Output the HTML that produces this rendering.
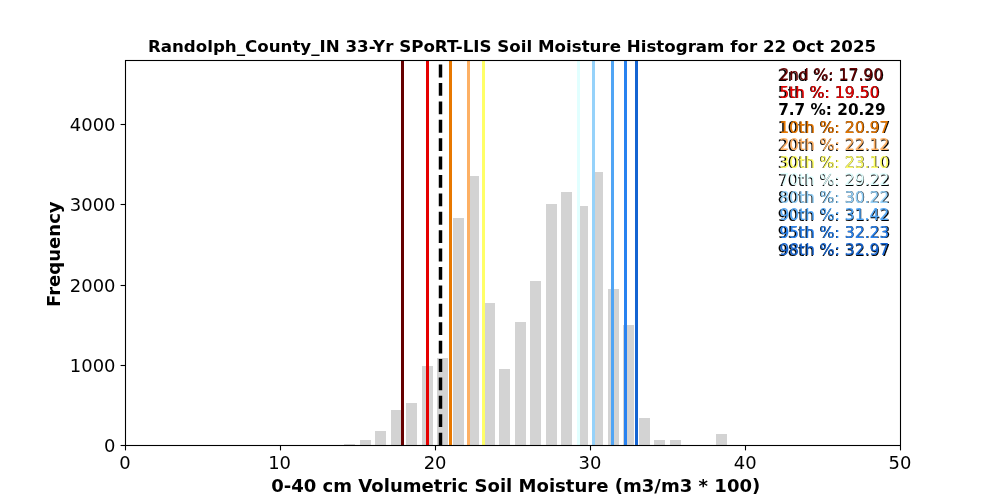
<!DOCTYPE html>
<html lang="en">
<head>
<meta charset="utf-8">
<title>Randolph_County_IN Soil Moisture Histogram</title>
<style>
html,body{margin:0;padding:0;background:#fff;}
body{width:1000px;height:500px;overflow:hidden;}
svg{display:block;will-change:transform;transform:translateZ(0);}
text{font-family:"DejaVu Sans", "Liberation Sans", sans-serif;fill:#000;}
.b{font-weight:bold;}
</style>
</head>
<body>
<svg width="1000" height="500" viewBox="0 0 1000 500">
<rect x="0" y="0" width="1000" height="500" fill="#ffffff"/>
<g fill="#d3d3d3" shape-rendering="crispEdges">
<rect x="344" y="444" width="11" height="1"/>
<rect x="360" y="440" width="11" height="5"/>
<rect x="375" y="431" width="11" height="14"/>
<rect x="391" y="410" width="11" height="35"/>
<rect x="406" y="403" width="11" height="42"/>
<rect x="422" y="366" width="11" height="79"/>
<rect x="437" y="358" width="11" height="87"/>
<rect x="453" y="218" width="11" height="227"/>
<rect x="468" y="176" width="11" height="269"/>
<rect x="484" y="303" width="11" height="142"/>
<rect x="499" y="369" width="11" height="76"/>
<rect x="515" y="322" width="11" height="123"/>
<rect x="530" y="281" width="11" height="164"/>
<rect x="546" y="204" width="11" height="241"/>
<rect x="561" y="192" width="11" height="253"/>
<rect x="577" y="206" width="11" height="239"/>
<rect x="592" y="172" width="11" height="273"/>
<rect x="608" y="289" width="11" height="156"/>
<rect x="623" y="325" width="11" height="120"/>
<rect x="639" y="418" width="11" height="27"/>
<rect x="654" y="440" width="11" height="5"/>
<rect x="670" y="440" width="11" height="5"/>
<rect x="716" y="434" width="11" height="11"/>
</g>
<g shape-rendering="crispEdges">
<rect x="401" y="60" width="3" height="386" fill="#660000"/>
<rect x="426" y="60" width="3" height="386" fill="#e60000"/>
<rect x="449" y="60" width="3" height="386" fill="#e87800"/>
<rect x="467" y="60" width="3" height="386" fill="#fdb064"/>
<rect x="482" y="60" width="3" height="386" fill="#ffff66"/>
<rect x="577" y="60" width="3" height="386" fill="#e1ffff"/>
<rect x="592" y="60" width="3" height="386" fill="#96d2fa"/>
<rect x="611" y="60" width="3" height="386" fill="#50a5f5"/>
<rect x="624" y="60" width="3" height="386" fill="#2882f0"/>
<rect x="635" y="60" width="3" height="386" fill="#1464d2"/>
</g>
<line x1="440.5" y1="445.5" x2="440.5" y2="60.5" stroke="#000" stroke-width="3.47" stroke-dasharray="12.847 5.556"/>
<rect x="125.5" y="60.5" width="775" height="385" fill="none" stroke="#000" stroke-width="1.1"/>
<g stroke="#000" stroke-width="1.1">
<line x1="125.5" y1="445.5" x2="125.5" y2="450.4"/>
<line x1="280.5" y1="445.5" x2="280.5" y2="450.4"/>
<line x1="435.5" y1="445.5" x2="435.5" y2="450.4"/>
<line x1="590.5" y1="445.5" x2="590.5" y2="450.4"/>
<line x1="745.5" y1="445.5" x2="745.5" y2="450.4"/>
<line x1="900.5" y1="445.5" x2="900.5" y2="450.4"/>
<line x1="120.6" y1="445.5" x2="125.5" y2="445.5"/>
<line x1="120.6" y1="365.5" x2="125.5" y2="365.5"/>
<line x1="120.6" y1="285.5" x2="125.5" y2="285.5"/>
<line x1="120.6" y1="204.5" x2="125.5" y2="204.5"/>
<line x1="120.6" y1="124.5" x2="125.5" y2="124.5"/>
</g>
<g font-size="17.95">
<text x="125.00" y="469" text-anchor="middle">0</text>
<text x="279.55" y="469" text-anchor="middle">10</text>
<text x="435.05" y="469" text-anchor="middle">20</text>
<text x="590.00" y="469" text-anchor="middle">30</text>
<text x="745.15" y="469" text-anchor="middle">40</text>
<text x="899.90" y="469" text-anchor="middle">50</text>
<text x="115.5" y="451.7" text-anchor="end">0</text>
<text x="115.5" y="371.7" text-anchor="end">1000</text>
<text x="115.5" y="291.7" text-anchor="end">2000</text>
<text x="115.5" y="210.7" text-anchor="end">3000</text>
<text x="115.5" y="130.7" text-anchor="end">4000</text>
</g>
<text class="b" x="512.0" y="51.5" text-anchor="middle" font-size="16.66">Randolph_County_IN 33-Yr SPoRT-LIS Soil Moisture Histogram for 22 Oct 2025</text>
<text class="b" x="515.7" y="492" text-anchor="middle" font-size="18.06">0-40 cm Volumetric Soil Moisture (m3/m3 * 100)</text>
<text class="b" transform="translate(59.9,254.2) rotate(-90)" text-anchor="middle" font-size="18.06">Frequency</text>
<g font-size="15.28">
<text x="777.7" y="80.70" font-size="15.9" style="stroke:#000;stroke-width:0.18">2nd %: 17.90</text>
<text x="779.4" y="80.20" font-size="15.5" style="fill:#660000;stroke:#660000;stroke-width:0.15">2nd %: 17.90</text>
<text x="777.7" y="98.20" font-size="15.9" style="stroke:#000;stroke-width:0.18">5th %: 19.50</text>
<text x="779.4" y="97.70" font-size="15.5" style="fill:#e60000;stroke:#e60000;stroke-width:0.15">5th %: 19.50</text>
<text class="b" x="778.2" y="115.40">7.7 %: 20.29</text>
<text x="777.7" y="133.20" font-size="15.9" style="stroke:#000;stroke-width:0.18">10th %: 20.97</text>
<text x="779.4" y="132.70" font-size="15.5" style="fill:#e87800;stroke:#e87800;stroke-width:0.15">10th %: 20.97</text>
<text x="777.7" y="150.70" font-size="15.9" style="stroke:#000;stroke-width:0.18">20th %: 22.12</text>
<text x="779.4" y="150.20" font-size="15.5" style="fill:#fdb064;stroke:#fdb064;stroke-width:0.15">20th %: 22.12</text>
<text x="777.7" y="168.20" font-size="15.9" style="stroke:#000;stroke-width:0.18">30th %: 23.10</text>
<text x="779.4" y="167.70" font-size="15.5" style="fill:#ffff66;stroke:#ffff66;stroke-width:0.15">30th %: 23.10</text>
<text x="777.7" y="185.70" font-size="15.9" style="stroke:#000;stroke-width:0.18">70th %: 29.22</text>
<text x="779.4" y="185.20" font-size="15.5" style="fill:#e1ffff;stroke:#e1ffff;stroke-width:0.15">70th %: 29.22</text>
<text x="777.7" y="203.20" font-size="15.9" style="stroke:#000;stroke-width:0.18">80th %: 30.22</text>
<text x="779.4" y="202.70" font-size="15.5" style="fill:#96d2fa;stroke:#96d2fa;stroke-width:0.15">80th %: 30.22</text>
<text x="777.7" y="220.70" font-size="15.9" style="stroke:#000;stroke-width:0.18">90th %: 31.42</text>
<text x="779.4" y="220.20" font-size="15.5" style="fill:#50a5f5;stroke:#50a5f5;stroke-width:0.15">90th %: 31.42</text>
<text x="777.7" y="238.20" font-size="15.9" style="stroke:#000;stroke-width:0.18">95th %: 32.23</text>
<text x="779.4" y="237.70" font-size="15.5" style="fill:#2882f0;stroke:#2882f0;stroke-width:0.15">95th %: 32.23</text>
<text x="777.7" y="255.70" font-size="15.9" style="stroke:#000;stroke-width:0.18">98th %: 32.97</text>
<text x="779.4" y="255.20" font-size="15.5" style="fill:#1464d2;stroke:#1464d2;stroke-width:0.15">98th %: 32.97</text>
</g>
</svg>
</body>
</html>
